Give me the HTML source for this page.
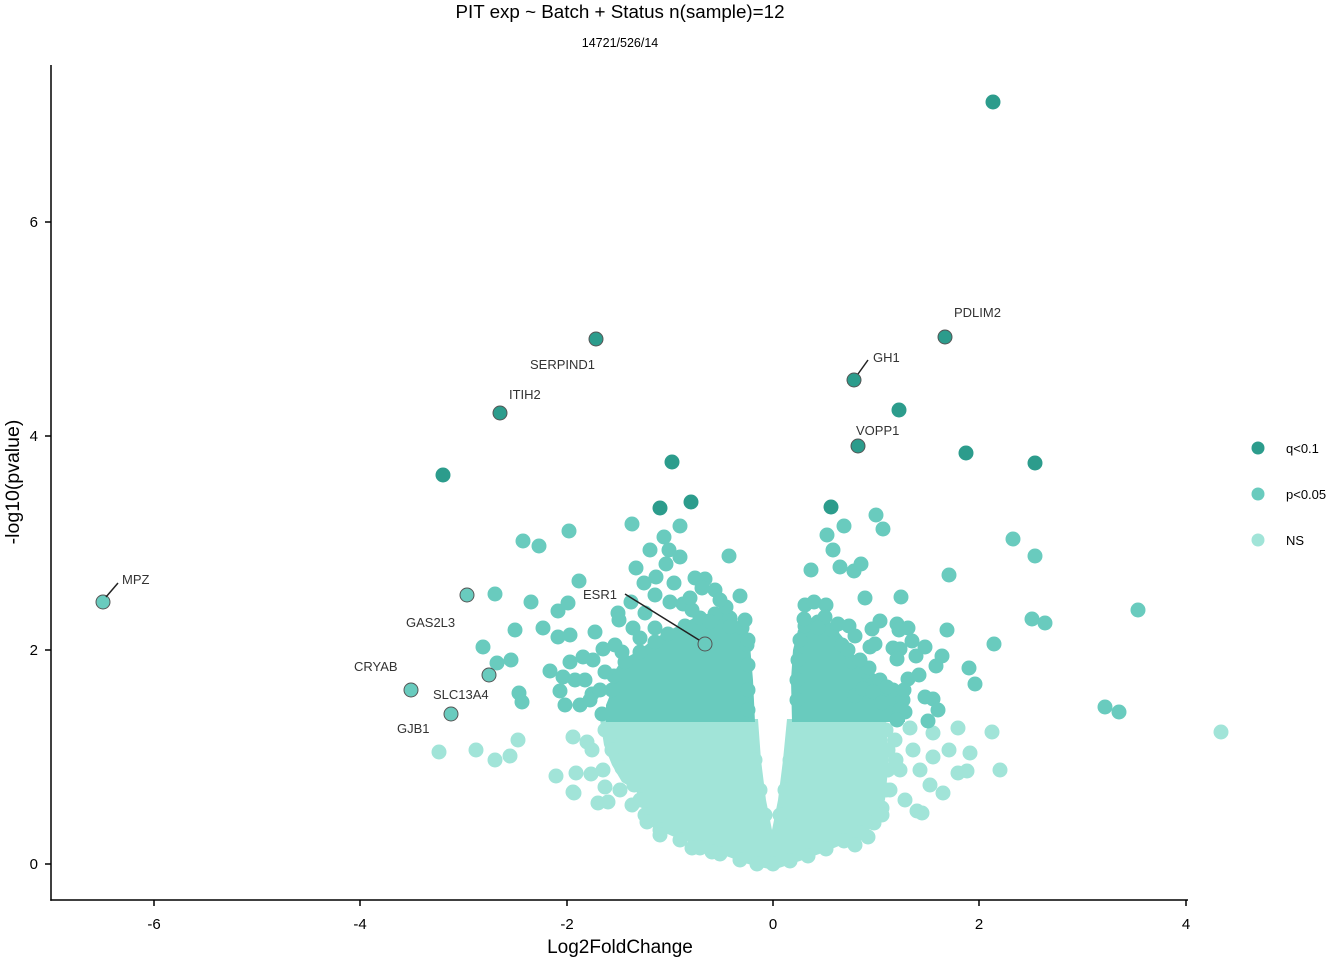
<!DOCTYPE html>
<html><head><meta charset="utf-8"><style>
html,body{margin:0;padding:0;background:#fff;}
svg{display:block;font-family:"Liberation Sans",Arial,sans-serif;}
</style></head><body>
<svg width="1344" height="960" viewBox="0 0 1344 960" xmlns="http://www.w3.org/2000/svg">
<rect width="1344" height="960" fill="#fff"/>
<text x="620" y="18" font-size="18.8" text-anchor="middle" fill="#000">PIT exp ~ Batch + Status n(sample)=12</text>
<text x="620" y="47" font-size="12.5" text-anchor="middle" fill="#000">14721/526/14</text>

<!-- NS dense -->
<g fill="#A1E4D8">
<polygon points="600,719 758,719 761,760 766,800 772,830 778,800 783,760 787,719 886,719 889,760 885,800 872,828 846,843 822,853 800,861 773,870 748,864 726,856 700,846 672,836 650,826 640,805 636,790 622,782 612,765 604,745"/>
<g>
<circle cx="605" cy="730" r="7.5"/><circle cx="612" cy="750" r="7.5"/><circle cx="622" cy="768" r="7.5"/><circle cx="634" cy="785" r="7.5"/><circle cx="640" cy="800" r="7.5"/><circle cx="645" cy="815" r="7.5"/><circle cx="660" cy="830" r="7.5"/><circle cx="680" cy="840" r="7.5"/><circle cx="700" cy="848" r="7.5"/><circle cx="720" cy="854" r="7.5"/><circle cx="740" cy="860" r="7.5"/><circle cx="757" cy="864" r="7.5"/><circle cx="773" cy="864" r="7.5"/><circle cx="790" cy="861" r="7.5"/><circle cx="808" cy="856" r="7.5"/><circle cx="826" cy="849" r="7.5"/><circle cx="844" cy="841" r="7.5"/><circle cx="860" cy="833" r="7.5"/><circle cx="874" cy="823" r="7.5"/><circle cx="882" cy="808" r="7.5"/><circle cx="886" cy="790" r="7.5"/><circle cx="888" cy="770" r="7.5"/><circle cx="888" cy="750" r="7.5"/><circle cx="886" cy="730" r="7.5"/>
<circle cx="751" cy="730" r="7.5"/><circle cx="755" cy="760" r="7.5"/><circle cx="760" cy="790" r="7.5"/><circle cx="765" cy="815" r="7.5"/><circle cx="794" cy="730" r="7.5"/><circle cx="790" cy="760" r="7.5"/><circle cx="785" cy="790" r="7.5"/><circle cx="780" cy="815" r="7.5"/>
<circle cx="439" cy="752" r="7.5"/><circle cx="476" cy="750" r="7.5"/><circle cx="495" cy="760" r="7.5"/><circle cx="510" cy="756" r="7.5"/><circle cx="518" cy="740" r="7.5"/><circle cx="556" cy="776" r="7.5"/><circle cx="574" cy="793" r="7.5"/><circle cx="573" cy="737" r="7.5"/><circle cx="587" cy="742" r="7.5"/><circle cx="592" cy="750" r="7.5"/><circle cx="576" cy="773" r="7.5"/><circle cx="591" cy="774" r="7.5"/><circle cx="603" cy="770" r="7.5"/><circle cx="573" cy="792" r="7.5"/><circle cx="598" cy="803" r="7.5"/><circle cx="608" cy="802" r="7.5"/><circle cx="632" cy="805" r="7.5"/><circle cx="647" cy="822" r="7.5"/><circle cx="692" cy="848" r="7.5"/><circle cx="605" cy="787" r="7.5"/><circle cx="610" cy="735" r="7.5"/><circle cx="620" cy="790" r="7.5"/><circle cx="660" cy="835" r="7.5"/><circle cx="712" cy="852" r="7.5"/>
<circle cx="910" cy="728" r="7.5"/><circle cx="933" cy="733" r="7.5"/><circle cx="958" cy="728" r="7.5"/><circle cx="992" cy="732" r="7.5"/><circle cx="949" cy="750" r="7.5"/><circle cx="970" cy="753" r="7.5"/><circle cx="958" cy="773" r="7.5"/><circle cx="967" cy="771" r="7.5"/><circle cx="1000" cy="770" r="7.5"/><circle cx="943" cy="793" r="7.5"/><circle cx="917" cy="811" r="7.5"/><circle cx="922" cy="813" r="7.5"/><circle cx="868" cy="837" r="7.5"/><circle cx="930" cy="785" r="7.5"/><circle cx="913" cy="750" r="7.5"/><circle cx="933" cy="757" r="7.5"/><circle cx="1221" cy="732" r="7.5"/><circle cx="895" cy="740" r="7.5"/><circle cx="900" cy="770" r="7.5"/><circle cx="890" cy="790" r="7.5"/><circle cx="905" cy="800" r="7.5"/><circle cx="882" cy="815" r="7.5"/><circle cx="896" cy="760" r="7.5"/><circle cx="920" cy="770" r="7.5"/><circle cx="855" cy="845" r="7.5"/>
</g>
</g>

<!-- p<0.05 -->
<g fill="#69CBBE">
<polygon points="612,690 614,672 622,660 640,650 652,640 666,632 682,624 700,615 720,612 735,618 745,630 750,645 753,680 755,722 606,722 606,705"/>
<polygon points="792,722 791,680 793,650 798,630 810,618 830,622 845,640 856,660 870,670 890,685 905,700 905,722"/>
<circle cx="612" cy="690" r="7.5"/><circle cx="614" cy="676" r="7.5"/><circle cx="625" cy="662" r="7.5"/><circle cx="640" cy="652" r="7.5"/><circle cx="655" cy="642" r="7.5"/><circle cx="668" cy="634" r="7.5"/><circle cx="685" cy="626" r="7.5"/><circle cx="700" cy="618" r="7.5"/><circle cx="715" cy="614" r="7.5"/><circle cx="730" cy="618" r="7.5"/><circle cx="742" cy="628" r="7.5"/><circle cx="747" cy="645" r="7.5"/><circle cx="748" cy="665" r="7.5"/><circle cx="748" cy="690" r="7.5"/><circle cx="748" cy="710" r="7.5"/>
<circle cx="797" cy="700" r="7.5"/><circle cx="797" cy="680" r="7.5"/><circle cx="798" cy="660" r="7.5"/><circle cx="800" cy="640" r="7.5"/><circle cx="805" cy="626" r="7.5"/><circle cx="818" cy="622" r="7.5"/><circle cx="832" cy="630" r="7.5"/><circle cx="842" cy="645" r="7.5"/><circle cx="852" cy="662" r="7.5"/><circle cx="866" cy="672" r="7.5"/><circle cx="880" cy="680" r="7.5"/><circle cx="893" cy="690" r="7.5"/><circle cx="903" cy="700" r="7.5"/><circle cx="905" cy="712" r="7.5"/>
<circle cx="523" cy="541" r="7.5"/><circle cx="539" cy="546" r="7.5"/><circle cx="569" cy="531" r="7.5"/><circle cx="632" cy="524" r="7.5"/><circle cx="680" cy="526" r="7.5"/><circle cx="664" cy="537" r="7.5"/><circle cx="650" cy="550" r="7.5"/><circle cx="669" cy="550" r="7.5"/><circle cx="680" cy="557" r="7.5"/><circle cx="729" cy="556" r="7.5"/><circle cx="666" cy="564" r="7.5"/><circle cx="636" cy="568" r="7.5"/><circle cx="656" cy="577" r="7.5"/><circle cx="644" cy="583" r="7.5"/><circle cx="674" cy="583" r="7.5"/><circle cx="695" cy="578" r="7.5"/><circle cx="705" cy="579" r="7.5"/><circle cx="702" cy="588" r="7.5"/><circle cx="579" cy="581" r="7.5"/><circle cx="740" cy="596" r="7.5"/><circle cx="495" cy="594" r="7.5"/><circle cx="531" cy="602" r="7.5"/><circle cx="568" cy="603" r="7.5"/><circle cx="558" cy="611" r="7.5"/><circle cx="631" cy="602" r="7.5"/><circle cx="670" cy="602" r="7.5"/><circle cx="683" cy="604" r="7.5"/><circle cx="692" cy="610" r="7.5"/><circle cx="645" cy="613" r="7.5"/><circle cx="618" cy="613" r="7.5"/><circle cx="619" cy="620" r="7.5"/><circle cx="726" cy="607" r="7.5"/><circle cx="515" cy="630" r="7.5"/><circle cx="543" cy="628" r="7.5"/><circle cx="558" cy="637" r="7.5"/><circle cx="570" cy="635" r="7.5"/><circle cx="595" cy="632" r="7.5"/><circle cx="633" cy="628" r="7.5"/><circle cx="483" cy="647" r="7.5"/><circle cx="603" cy="649" r="7.5"/><circle cx="622" cy="652" r="7.5"/><circle cx="511" cy="660" r="7.5"/><circle cx="497" cy="663" r="7.5"/><circle cx="570" cy="662" r="7.5"/><circle cx="583" cy="657" r="7.5"/><circle cx="593" cy="660" r="7.5"/><circle cx="550" cy="671" r="7.5"/><circle cx="519" cy="693" r="7.5"/><circle cx="522" cy="702" r="7.5"/><circle cx="565" cy="705" r="7.5"/><circle cx="580" cy="705" r="7.5"/><circle cx="592" cy="694" r="7.5"/><circle cx="560" cy="691" r="7.5"/><circle cx="563" cy="677" r="7.5"/><circle cx="575" cy="680" r="7.5"/><circle cx="585" cy="680" r="7.5"/><circle cx="602" cy="714" r="7.5"/><circle cx="600" cy="690" r="7.5"/><circle cx="590" cy="700" r="7.5"/><circle cx="605" cy="672" r="7.5"/>
<circle cx="655" cy="595" r="7.5"/><circle cx="715" cy="590" r="7.5"/><circle cx="720" cy="600" r="7.5"/><circle cx="710" cy="622" r="7.5"/><circle cx="730" cy="627" r="7.5"/><circle cx="745" cy="620" r="7.5"/><circle cx="655" cy="628" r="7.5"/><circle cx="640" cy="638" r="7.5"/><circle cx="690" cy="598" r="7.5"/><circle cx="748" cy="640" r="7.5"/><circle cx="615" cy="645" r="7.5"/>
<circle cx="876" cy="515" r="7.5"/><circle cx="883" cy="529" r="7.5"/><circle cx="844" cy="526" r="7.5"/><circle cx="827" cy="535" r="7.5"/><circle cx="833" cy="550" r="7.5"/><circle cx="811" cy="570" r="7.5"/><circle cx="840" cy="567" r="7.5"/><circle cx="854" cy="571" r="7.5"/><circle cx="861" cy="564" r="7.5"/><circle cx="949" cy="575" r="7.5"/><circle cx="1013" cy="539" r="7.5"/><circle cx="1035" cy="556" r="7.5"/><circle cx="865" cy="598" r="7.5"/><circle cx="901" cy="597" r="7.5"/><circle cx="1138" cy="610" r="7.5"/><circle cx="1032" cy="619" r="7.5"/><circle cx="1045" cy="623" r="7.5"/><circle cx="947" cy="630" r="7.5"/><circle cx="994" cy="644" r="7.5"/><circle cx="969" cy="668" r="7.5"/><circle cx="975" cy="684" r="7.5"/><circle cx="1105" cy="707" r="7.5"/><circle cx="1119" cy="712" r="7.5"/><circle cx="805" cy="605" r="7.5"/><circle cx="814" cy="602" r="7.5"/><circle cx="826" cy="605" r="7.5"/><circle cx="804" cy="619" r="7.5"/><circle cx="825" cy="617" r="7.5"/><circle cx="818" cy="628" r="7.5"/><circle cx="838" cy="624" r="7.5"/><circle cx="849" cy="626" r="7.5"/><circle cx="855" cy="636" r="7.5"/><circle cx="872" cy="629" r="7.5"/><circle cx="880" cy="621" r="7.5"/><circle cx="897" cy="624" r="7.5"/><circle cx="908" cy="628" r="7.5"/><circle cx="899" cy="630" r="7.5"/><circle cx="912" cy="641" r="7.5"/><circle cx="925" cy="647" r="7.5"/><circle cx="870" cy="647" r="7.5"/><circle cx="875" cy="644" r="7.5"/><circle cx="893" cy="648" r="7.5"/><circle cx="900" cy="649" r="7.5"/><circle cx="897" cy="659" r="7.5"/><circle cx="916" cy="656" r="7.5"/><circle cx="942" cy="656" r="7.5"/><circle cx="936" cy="666" r="7.5"/><circle cx="869" cy="668" r="7.5"/><circle cx="919" cy="675" r="7.5"/><circle cx="908" cy="679" r="7.5"/><circle cx="904" cy="690" r="7.5"/><circle cx="887" cy="687" r="7.5"/><circle cx="925" cy="697" r="7.5"/><circle cx="933" cy="699" r="7.5"/><circle cx="938" cy="710" r="7.5"/><circle cx="928" cy="721" r="7.5"/><circle cx="855" cy="696" r="7.5"/><circle cx="863" cy="689" r="7.5"/><circle cx="873" cy="692" r="7.5"/><circle cx="882" cy="703" r="7.5"/><circle cx="900" cy="710" r="7.5"/><circle cx="897" cy="720" r="7.5"/><circle cx="848" cy="650" r="7.5"/><circle cx="860" cy="660" r="7.5"/>
</g>

<!-- q<0.1 -->
<g fill="#2C9C8C">
<circle cx="993" cy="102" r="7.5"/><circle cx="899" cy="410" r="7.5"/><circle cx="966" cy="453" r="7.5"/><circle cx="1035" cy="463" r="7.5"/><circle cx="443" cy="475" r="7.5"/><circle cx="672" cy="462" r="7.5"/><circle cx="691" cy="502" r="7.5"/><circle cx="660" cy="508" r="7.5"/><circle cx="831" cy="507" r="7.5"/>
</g>
<g fill="#2C9C8C" stroke="#555" stroke-width="1">
<circle cx="596" cy="339" r="7"/><circle cx="945" cy="337" r="7"/><circle cx="500" cy="413" r="7"/><circle cx="854" cy="380" r="7"/><circle cx="858" cy="446" r="7"/>
</g>
<g fill="#69CBBE" stroke="#555" stroke-width="1">
<circle cx="103" cy="602" r="7"/><circle cx="467" cy="595" r="7"/><circle cx="705" cy="644" r="7"/><circle cx="489" cy="675" r="7"/><circle cx="411" cy="690" r="7"/><circle cx="451" cy="714" r="7"/>
</g>

<!-- label segments -->
<g stroke="#222" stroke-width="1.5">
<line x1="106" y1="597" x2="118" y2="583"/>
<line x1="858" y1="374" x2="868" y2="360"/>
<line x1="625" y1="594" x2="699" y2="640"/>
</g>
<g font-size="13" fill="#333">
<text x="122" y="584">MPZ</text>
<text x="873" y="362">GH1</text>
<text x="954" y="317">PDLIM2</text>
<text x="530" y="369">SERPIND1</text>
<text x="509" y="399">ITIH2</text>
<text x="856" y="435">VOPP1</text>
<text x="583" y="599">ESR1</text>
<text x="406" y="627">GAS2L3</text>
<text x="354" y="671">CRYAB</text>
<text x="433" y="699">SLC13A4</text>
<text x="397" y="733">GJB1</text>
</g>

<!-- axes -->
<g stroke="#000" stroke-width="1.5" fill="none">
<line x1="51" y1="65" x2="51" y2="900.75"/>
<line x1="50.25" y1="900" x2="1188" y2="900"/>
<line x1="45" y1="864" x2="51" y2="864"/>
<line x1="45" y1="650" x2="51" y2="650"/>
<line x1="45" y1="436" x2="51" y2="436"/>
<line x1="45" y1="222" x2="51" y2="222"/>
<line x1="154" y1="900" x2="154" y2="906"/>
<line x1="360" y1="900" x2="360" y2="906"/>
<line x1="567" y1="900" x2="567" y2="906"/>
<line x1="773" y1="900" x2="773" y2="906"/>
<line x1="979" y1="900" x2="979" y2="906"/>
<line x1="1186" y1="900" x2="1186" y2="906"/>
</g>
<g font-size="15" fill="#000" text-anchor="end">
<text x="38" y="869">0</text>
<text x="38" y="655">2</text>
<text x="38" y="441">4</text>
<text x="38" y="227">6</text>
</g>
<g font-size="15" fill="#000" text-anchor="middle">
<text x="154" y="929">-6</text>
<text x="360" y="929">-4</text>
<text x="567" y="929">-2</text>
<text x="773" y="929">0</text>
<text x="979" y="929">2</text>
<text x="1186" y="929">4</text>
</g>
<text x="620" y="953" font-size="19" text-anchor="middle" fill="#000">Log2FoldChange</text>
<text transform="translate(19,482) rotate(-90)" font-size="19.5" text-anchor="middle" fill="#000">-log10(pvalue)</text>

<!-- legend -->
<circle cx="1258" cy="448" r="6.5" fill="#2C9C8C"/>
<circle cx="1258" cy="494" r="6.5" fill="#69CBBE"/>
<circle cx="1258" cy="540" r="6.5" fill="#A1E4D8"/>
<g font-size="13" fill="#000">
<text x="1286" y="453">q&lt;0.1</text>
<text x="1286" y="499">p&lt;0.05</text>
<text x="1286" y="545">NS</text>
</g>
</svg>
</body></html>
